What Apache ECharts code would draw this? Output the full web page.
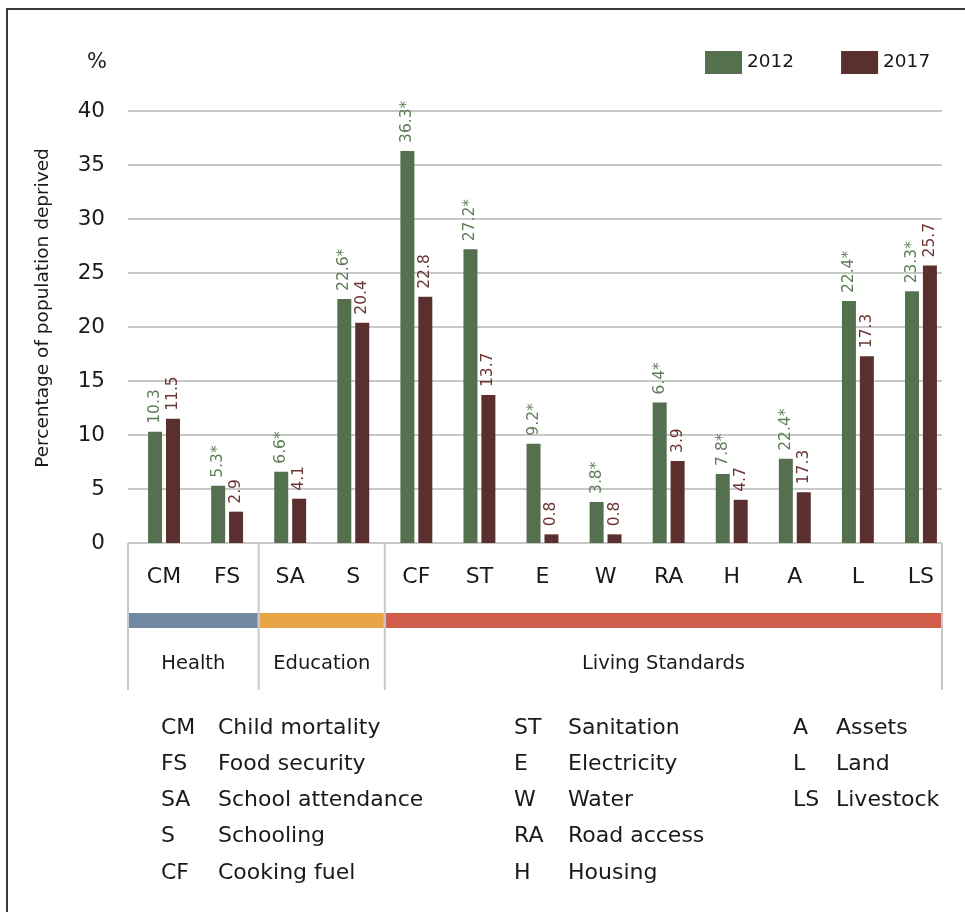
<!DOCTYPE html>
<html lang="en">

<head>
  <meta charset="UTF-8">
  <title>deprivation by indicator</title>
  <script src="https://cdn.jsdelivr.net/npm/echarts@6.0.0/dist/echarts.min.js"></script>
  <style>
    body { margin: 0; background: #fff; }
    #main { width: 965px; height: 912px; }
  </style>
</head>

<body>
  <div id="main"></div>
  <script>
    let codes = ['CM', 'FS', 'SA', 'S', 'CF', 'ST', 'E', 'W', 'RA', 'H', 'A', 'L', 'LS'];

    // bar heights as drawn
    let values2012 = [10.3, 5.3, 6.6, 22.6, 36.3, 27.2, 9.2, 3.8, 13.0, 6.4, 7.8, 22.4, 23.3];
    let values2017 = [11.5, 2.9, 4.1, 20.4, 22.8, 13.7, 0.8, 0.8, 7.6, 4.0, 4.7, 17.3, 25.7];

    // label texts as printed above the bars
    let labels2012 = ['10.3', '5.3*', '6.6*', '22.6*', '36.3*', '27.2*', '9.2*', '3.8*', '6.4*', '7.8*', '22.4*', '22.4*', '23.3*'];
    let labels2017 = ['11.5', '2.9', '4.1', '20.4', '22.8', '13.7', '0.8', '0.8', '3.9', '4.7', '17.3', '17.3', '25.7'];

    let groupNames = ['Health', 'Education', 'Living Standards'];
    let groupFirst = [0, 2, 4];
    let groupLast = [1, 3, 12];
    let groupColors = ['#7189a3', '#e8a545', '#d05c4c'];

    let defCol1 = [['CM', 'Child mortality'], ['FS', 'Food security'], ['SA', 'School attendance'], ['S', 'Schooling'], ['CF', 'Cooking fuel']];
    let defCol2 = [['ST', 'Sanitation'], ['E', 'Electricity'], ['W', 'Water'], ['RA', 'Road access'], ['H', 'Housing']];
    let defCol3 = [['A', 'Assets'], ['L', 'Land'], ['LS', 'Livestock']];
  </script>
  <script>
    let font = 'DejaVu Sans';
    let green = '#55704f';
    let red = '#5b2f2d';
    let gridColor = '#c8c8c8';

    let chart = echarts.init(document.getElementById('main'));

    let option = {
      animation: false,
      textStyle: { fontFamily: font },
      legend: {
        data: ['2012', '2017'],
        left: 705,
        top: 51,
        padding: 0,
        icon: 'rect',
        itemWidth: 37,
        itemHeight: 23,
        itemGap: 47,
        textStyle: { fontSize: 18.5, color: '#1a1a1a', fontFamily: font }
      },
      grid: [
        { left: 132.5, top: 111, width: 820, height: 432 },
        { left: 128, top: 111, width: 814, height: 432 }
      ],
      xAxis: [
        {
          type: 'category',
          gridIndex: 0,
          data: codes,
          axisLine: { show: false },
          axisTick: { show: false },
          axisLabel: { fontSize: 22, color: '#1a1a1a', margin: 23, fontFamily: font }
        },
        { type: 'value', gridIndex: 1, min: 0, max: 1, show: false }
      ],
      yAxis: [
        { type: 'value', gridIndex: 0, min: 0, max: 40, interval: 5, show: false },
        {
          type: 'value',
          gridIndex: 1,
          min: 0,
          max: 40,
          interval: 5,
          axisLine: { show: false },
          axisTick: { show: false },
          axisLabel: { fontSize: 21.5, color: '#1a1a1a', margin: 23, fontFamily: font },
          splitLine: { lineStyle: { color: gridColor, width: 2 } }
        }
      ],
      series: [
        {
          name: '2012',
          type: 'bar',
          xAxisIndex: 0,
          yAxisIndex: 0,
          data: values2012,
          barWidth: 14,
          barGap: '28%',
          itemStyle: { color: green },
          label: {
            show: true,
            position: 'top',
            rotate: 90,
            align: 'left',
            verticalAlign: 'middle',
            distance: 8,
            fontSize: 15.5,
            color: '#5e7e57',
            fontFamily: font,
            formatter: p => labels2012[p.dataIndex]
          }
        },
        {
          name: '2017',
          type: 'bar',
          xAxisIndex: 0,
          yAxisIndex: 0,
          data: values2017,
          barWidth: 14,
          barGap: '28%',
          itemStyle: { color: red },
          label: {
            show: true,
            position: 'top',
            rotate: 90,
            align: 'left',
            verticalAlign: 'middle',
            distance: 8,
            fontSize: 15.5,
            color: '#6b3430',
            fontFamily: font,
            formatter: p => labels2017[p.dataIndex]
          }
        }
      ]
    };

    chart.setOption(option);

    // category boundaries, from the axes
    let step = chart.convertToPixel({ xAxisIndex: 0 }, codes[1]) - chart.convertToPixel({ xAxisIndex: 0 }, codes[0]);
    let outerLeft = chart.convertToPixel({ xAxisIndex: 1 }, 0);
    let outerRight = chart.convertToPixel({ xAxisIndex: 1 }, 1);
    function edgeAfter(i) {
      if (i === codes.length - 1) return outerRight;
      return chart.convertToPixel({ xAxisIndex: 0 }, codes[i]) + step / 2;
    }
    let axisY = chart.convertToPixel({ yAxisIndex: 1 }, 0);

    let graphics = [];

    // frame
    graphics.push({
      type: 'polyline',
      shape: { points: [[7, 912], [7, 9], [965, 9]] },
      style: { stroke: '#3a3a3a', lineWidth: 2, fill: null }
    });

    // percent sign and axis title
    graphics.push({
      type: 'text',
      x: 97, y: 63,
      style: { text: '%', font: '21px "DejaVu Sans"', fill: '#1a1a1a', align: 'center', verticalAlign: 'middle' }
    });
    graphics.push({
      type: 'text',
      x: 43, y: 308,
      rotation: Math.PI / 2,
      style: { text: 'Percentage of population deprived', font: '18.5px "DejaVu Sans"', fill: '#1a1a1a', align: 'center', verticalAlign: 'middle' }
    });

    // group dividers, bands and names
    let edges = [outerLeft];
    groupLast.forEach(i => edges.push(edgeAfter(i)));
    edges.forEach(x => {
      graphics.push({
        type: 'line',
        shape: { x1: x, y1: axisY, x2: x, y2: 690 },
        style: { stroke: gridColor, lineWidth: 2 }
      });
    });
    groupNames.forEach((name, g) => {
      let x1 = edges[g] + 1;
      let x2 = edges[g + 1] - 1;
      graphics.push({
        type: 'rect',
        shape: { x: x1, y: 613, width: x2 - x1, height: 15 },
        style: { fill: groupColors[g] }
      });
      graphics.push({
        type: 'text',
        x: (x1 + x2) / 2, y: 664,
        style: { text: name, font: '19.5px "DejaVu Sans"', fill: '#1a1a1a', align: 'center', verticalAlign: 'middle' }
      });
    });

    // abbreviation key
    let defCols = [[defCol1, 161, 218], [defCol2, 514, 568], [defCol3, 793, 836]];
    defCols.forEach(([rows, xa, xt]) => {
      rows.forEach((r, k) => {
        let y = 728 + 36.2 * k;
        graphics.push({
          type: 'text', x: xa, y: y,
          style: { text: r[0], font: '22px "DejaVu Sans"', fill: '#1a1a1a', align: 'left', verticalAlign: 'middle' }
        });
        graphics.push({
          type: 'text', x: xt, y: y,
          style: { text: r[1], font: '22px "DejaVu Sans"', fill: '#1a1a1a', align: 'left', verticalAlign: 'middle' }
        });
      });
    });

    chart.setOption({ graphic: graphics });
  </script>
</body>

</html>
